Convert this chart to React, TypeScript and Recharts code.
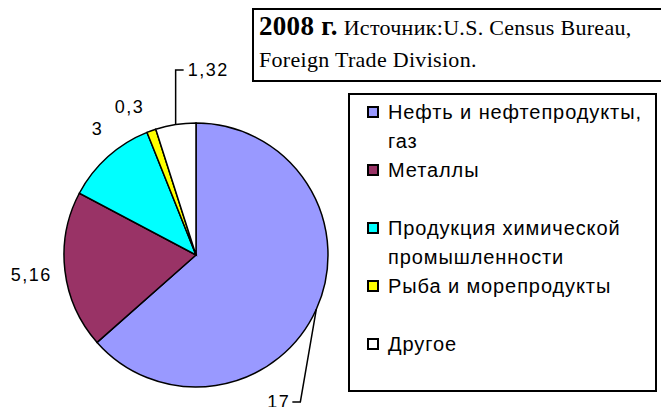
import React from 'react';
import { PieChart, Pie, Cell, Legend } from 'recharts';

const categories = [
  'Нефть и нефтепродукты, газ',
  'Металлы',
  'Продукция химической промышленности',
  'Рыба и морепродукты',
  'Другое',
];
const values = [17, 5.16, 3, 0.3, 1.32];
const colors = ['#9999FF', '#993366', '#00FFFF', '#FFFF00', '#FFFFFF'];
const titleBold = '2008 г.';
const titleRest = ' Источник:U.S. Census Bureau, Foreign Trade Division.';

const data = categories.map((name, i) => ({ name, value: values[i] }));

const RAD = Math.PI / 180;
const polar = (cx: number, cy: number, r: number, a: number) => ({
  x: cx + r * Math.cos(-a * RAD),
  y: cy + r * Math.sin(-a * RAD),
});
const fmt = (v: number) => String(v).replace('.', ',');

const labelFont = {
  fontFamily: 'Liberation Sans, Arial, sans-serif',
  fontSize: 18,
  letterSpacing: 1.5,
  fill: '#000',
};

const renderLabel = (props: any) => {
  const { cx, cy, midAngle, outerRadius, index, value } = props;
  const r = outerRadius;
  const text = fmt(value);
  if (index === 0) {
    const s = polar(cx, cy, r, midAngle);
    const ex = s.x - 16;
    const ey = cy + 147;
    return (
      <g>
        <polyline points={`${s.x},${s.y} ${ex},${ey} ${ex - 8},${ey}`} fill="none" stroke="#000" strokeWidth={1.5} />
        <text x={ex - 10} y={ey} textAnchor="end" dominantBaseline="central" {...labelFont}>{text}</text>
      </g>
    );
  }
  if (index === 4) {
    const s = polar(cx, cy, r, midAngle);
    const ey = cy - 185;
    return (
      <g>
        <polyline points={`${s.x},${s.y} ${s.x},${ey} ${s.x + 8},${ey}`} fill="none" stroke="#000" strokeWidth={1.5} />
        <text x={s.x + 12} y={ey} textAnchor="start" dominantBaseline="central" {...labelFont}>{text}</text>
      </g>
    );
  }
  const cfg: Record<number, [number, number]> = { 1: [34, 0], 2: [28, -4], 3: [30, 4.5] };
  const [dr, da] = cfg[index];
  const p = polar(cx, cy, r + dr, midAngle + da);
  return (
    <text x={p.x} y={p.y} textAnchor="middle" dominantBaseline="central" {...labelFont}>{text}</text>
  );
};

const renderLegend = () => {
  return (
    <div style={{ paddingTop: 3 }}>
      {categories.map((name, i) => (
        <div key={i} style={{ position: 'relative', height: 58, paddingLeft: 38 }}>
          <div
            style={{
              position: 'absolute',
              left: 17,
              top: 8,
              width: 12,
              height: 12,
              boxSizing: 'border-box',
              border: '2px solid #000',
              background: colors[i],
            }}
          />
          <div
            style={{
              fontFamily: 'Liberation Sans, Arial, sans-serif',
              fontSize: 20,
              lineHeight: '29px',
              letterSpacing: 0.9,
              color: '#000',
              width: 266,
              textAlign: 'left',
            }}
          >
            {name}
          </div>
        </div>
      ))}
    </div>
  );
};

export default function App() {
  return (
    <div style={{ position: 'fixed', left: 0, top: 0, width: 661, height: 407, background: '#fff', overflow: 'hidden' }}>
      <PieChart width={661} height={407}>
        <Pie
          data={data}
          dataKey="value"
          nameKey="name"
          cx={191}
          cy={250}
          outerRadius={132}
          startAngle={90}
          endAngle={-270}
          stroke="#000"
          strokeWidth={1.5}
          label={renderLabel}
          labelLine={false}
          isAnimationActive={false}
        >
          {data.map((d, i) => (
            <Cell key={d.name} fill={colors[i]} />
          ))}
        </Pie>
        <Legend
          content={renderLegend}
          layout="vertical"
          wrapperStyle={{
            position: 'absolute',
            left: 348,
            top: 93,
            width: 309,
            height: 299,
            border: '2px solid #000',
            boxSizing: 'border-box',
            background: '#fff',
          }}
        />
      </PieChart>
      <div
        style={{
          position: 'absolute',
          left: 252,
          top: 8,
          width: 420,
          height: 74,
          boxSizing: 'border-box',
          border: '2px solid #000',
          background: '#fff',
          fontFamily: 'Liberation Serif, Times New Roman, serif',
          fontSize: 22,
          lineHeight: '32px',
          color: '#000',
          padding: '0 0 0 5px',
        }}
      >
        <div style={{ width: 400, letterSpacing: 0.3 }}>
          <b style={{ fontSize: 27 }}>{titleBold}</b>
          {titleRest}
        </div>
      </div>
    </div>
  );
}
